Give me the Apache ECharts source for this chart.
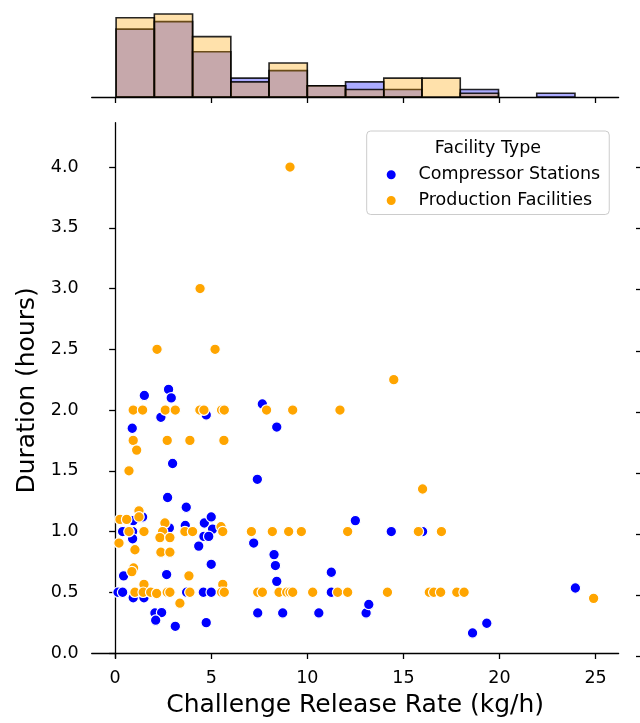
<!DOCTYPE html>
<html>
<head>
<meta charset="utf-8">
<script src="https://cdn.jsdelivr.net/npm/echarts@6/dist/echarts.min.js"></script>
<style>
html,body{margin:0;padding:0;background:#fff;}
#chart{width:640px;height:723px;}
</style>
</head>
<body>
<div id="chart"></div>
<script>
// ---- data ----
const seriesNames = ['Compressor Stations', 'Production Facilities'];
const compressorPoints = [
  [1.52,2.12],[2.78,2.17],[2.92,2.10],[2.38,1.94],[4.74,1.96],[7.66,2.05],[0.89,1.85],[8.41,1.86],
  [2.99,1.56],[7.40,1.43],[2.73,1.28],[3.70,1.20],[12.5,1.09],[1.43,1.12],[0.94,1.09],[3.65,1.05],
  [4.64,1.07],[5.00,1.12],[5.07,1.02],[0.39,1.00],[0.91,1.00],[2.82,1.03],[14.37,1.00],[16.0,1.00],
  [0.91,0.94],[4.62,0.96],[4.87,0.96],[4.35,0.88],[7.21,0.905],[5.00,0.73],[8.27,0.81],[8.34,0.72],
  [8.41,0.59],[11.25,0.665],[0.44,0.635],[2.68,0.646],[0.15,0.50],[0.39,0.50],[3.72,0.50],[4.59,0.50],
  [5.00,0.50],[11.25,0.50],[0.94,0.455],[1.50,0.455],[2.07,0.33],[2.42,0.333],[2.11,0.27],[3.13,0.22],
  [4.74,0.25],[7.42,0.33],[8.72,0.33],[10.6,0.33],[13.06,0.33],[13.2,0.40],[18.6,0.165],[19.34,0.245],
  [23.95,0.535]
];
const productionPoints = [
  [9.10,4.00],[4.42,3.00],[2.18,2.50],[5.20,2.50],[14.5,2.25],
  [0.94,2.00],[1.43,2.00],[2.61,2.00],[3.13,2.00],[4.41,2.00],[4.62,2.00],[5.54,2.00],[5.68,2.00],
  [7.88,2.00],[9.24,2.00],[11.7,2.00],
  [0.94,1.75],[2.71,1.75],[3.89,1.75],[5.66,1.75],
  [1.12,1.67],[0.72,1.50],[16.0,1.35],
  [1.24,1.17],[1.24,1.12],[0.25,1.10],[0.60,1.10],[2.59,1.07],[5.51,1.04],
  [0.72,1.00],[1.50,1.00],[2.47,1.00],[3.63,1.00],[4.03,1.00],[5.60,1.00],[7.09,1.00],[8.18,1.00],
  [9.03,1.00],[9.69,1.00],[12.1,1.00],[15.78,1.00],[16.98,1.00],
  [2.33,0.95],[2.85,0.95],[0.20,0.905],[1.03,0.85],[2.38,0.83],[2.85,0.83],
  [0.96,0.70],[0.87,0.67],[3.84,0.635],[1.50,0.565],[5.60,0.565],
  [1.03,0.50],[1.46,0.50],[1.85,0.50],[2.16,0.49],[2.71,0.50],[2.85,0.50],[3.89,0.50],[5.54,0.50],
  [5.68,0.50],[7.42,0.50],[7.66,0.50],[8.53,0.50],[8.93,0.50],[9.10,0.50],[9.24,0.50],[10.28,0.50],
  [11.58,0.50],[12.1,0.50],[14.17,0.50],[16.35,0.50],[16.58,0.50],[16.94,0.50],[17.78,0.50],[18.16,0.50],
  [3.37,0.41],[24.9,0.45]
];
// marginal histogram (counts per bin)
const binStart = 0.05;
const binWidth = 1.99;
const compressorCounts = [18, 20, 12, 5, 7, 3, 4, 2, 0, 2, 0, 1];
const productionCounts = [21, 22, 16, 4, 9, 3, 2, 5, 5, 1, 0, 0];
const xTicks = [0, 5, 10, 15, 20, 25];
const yTicks = [0, 0.5, 1.0, 1.5, 2.0, 2.5, 3.0, 3.5, 4.0];

// ---- build ----
const X_MIN = -1.22, X_MAX = 26.2, Y_MIN = -0.041, Y_MAX = 4.365;
const FONT = 'DejaVu Sans';
function binData(counts) {
  const out = [];
  counts.forEach((c, i) => {
    if (c > 0) out.push([binStart + i * binWidth, binStart + (i + 1) * binWidth, c]);
  });
  return out;
}
function histRender(fill) {
  return function (params, api) {
    const p0 = api.coord([api.value(0), 0]);
    const p1 = api.coord([api.value(1), api.value(2)]);
    return {
      type: 'rect',
      shape: { x: p0[0], y: p1[1], width: p1[0] - p0[0], height: p0[1] - p1[1] },
      style: { fill: fill, stroke: 'rgba(0,0,0,0.85)', lineWidth: 1.6 }
    };
  };
}
const axisLine = { show: true, lineStyle: { color: '#000', width: 1.3 } };
const tickStyle = { color: '#000', width: 1.3 };

const chart = echarts.init(document.getElementById('chart'), null, { renderer: 'canvas' });
chart.setOption({
  animation: false,
  backgroundColor: '#fff',
  textStyle: { fontFamily: FONT },
  grid: [
    { left: 91.7, right: 21.4, top: 122.7, bottom: 61.3 },
    { left: 91.7, right: 21.4, top: 9.9, bottom: 626 },
    { left: 642, width: 60, top: 122.7, bottom: 61.3 }
  ],
  title: {
    text: 'Facility Type',
    left: 487.9, top: 138, textAlign: 'center', padding: 0,
    textStyle: { fontFamily: FONT, fontSize: 17.5, fontWeight: 'normal', color: '#000', lineHeight: 20 }
  },
  legend: {
    data: seriesNames,
    orient: 'vertical',
    left: 366.7, top: 131,
    padding: [33.8, 9, 4, 18],
    itemWidth: 44.7, itemHeight: 11, itemGap: 5.7,
    borderColor: '#cccccc', borderWidth: 1, borderRadius: 4,
    backgroundColor: 'rgba(255,255,255,0.8)',
    textStyle: { fontFamily: FONT, fontSize: 17.5, color: '#000', lineHeight: 20 }
  },
  xAxis: [
    {
      gridIndex: 0, type: 'value', min: X_MIN, max: X_MAX,
      name: 'Challenge Release Rate (kg/h)', nameLocation: 'middle', nameGap: 35,
      nameTextStyle: { fontFamily: FONT, fontSize: 25, color: '#000' },
      axisLine: axisLine,
      axisTick: { show: true, length: 6, lineStyle: tickStyle, customValues: xTicks },
      axisLabel: { fontFamily: FONT, fontSize: 17.5, color: '#000', margin: 11, customValues: xTicks },
      splitLine: { show: false }
    },
    {
      gridIndex: 1, type: 'value', min: X_MIN, max: X_MAX,
      axisLine: axisLine,
      axisTick: { show: true, length: 6, lineStyle: tickStyle, customValues: xTicks },
      axisLabel: { show: false },
      splitLine: { show: false }
    },
    {
      gridIndex: 2, type: 'value', min: 0, max: 1, show: false
    }
  ],
  yAxis: [
    {
      gridIndex: 0, type: 'value', min: Y_MIN, max: Y_MAX,
      name: 'Duration (hours)', nameLocation: 'middle', nameGap: 52,
      nameTextStyle: { fontFamily: FONT, fontSize: 25, color: '#000' },
      axisLine: axisLine,
      axisTick: { show: true, length: 6, lineStyle: tickStyle, customValues: yTicks },
      axisLabel: { fontFamily: FONT, fontSize: 17.5, color: '#000', margin: 13, customValues: yTicks,
        formatter: v => Number(v).toFixed(1) },
      splitLine: { show: false }
    },
    {
      gridIndex: 1, type: 'value', min: 0, max: 23.1, show: false
    },
    {
      gridIndex: 2, type: 'value', min: Y_MIN, max: Y_MAX,
      axisLine: { show: false },
      axisTick: { show: true, length: 6, lineStyle: tickStyle, customValues: yTicks },
      axisLabel: { show: false },
      splitLine: { show: false }
    }
  ],
  series: [
    {
      name: seriesNames[0], type: 'scatter', xAxisIndex: 0, yAxisIndex: 0,
      data: compressorPoints, symbol: 'circle', symbolSize: 10.5,
      itemStyle: { color: '#0000ff', borderColor: '#ffffff', borderWidth: 1.2, opacity: 1 },
      z: 3
    },
    {
      name: seriesNames[1], type: 'scatter', xAxisIndex: 0, yAxisIndex: 0,
      data: productionPoints, symbol: 'circle', symbolSize: 10.5,
      itemStyle: { color: '#ffa500', borderColor: '#ffffff', borderWidth: 1.2, opacity: 1 },
      z: 4
    },
    {
      name: 'hist-cs', type: 'custom', xAxisIndex: 1, yAxisIndex: 1,
      data: binData(compressorCounts), renderItem: histRender('rgba(0,0,255,0.33)'),
      encode: { x: [0, 1], y: 2 }, z: 2
    },
    {
      name: 'hist-pf', type: 'custom', xAxisIndex: 1, yAxisIndex: 1,
      data: binData(productionCounts), renderItem: histRender('rgba(255,165,0,0.33)'),
      encode: { x: [0, 1], y: 2 }, z: 3
    }
  ]
});
</script>
</body>
</html>
